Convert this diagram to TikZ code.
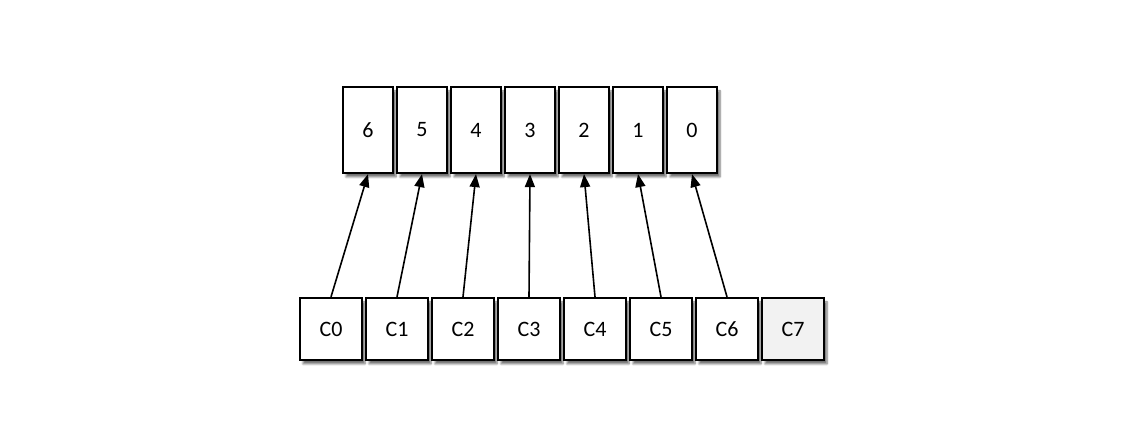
\documentclass[tikz,border=0pt]{standalone}
\usepackage{fontspec}
\setmainfont[Numbers=Lining]{Carlito}
\usepackage{tikz}
\usetikzlibrary{positioning,arrows.meta,shadows.blur}

\begin{document}
\begin{tikzpicture}[x=1pt,y=1pt]
	\tikzset{slot/.style={draw,line width=2.2pt,fill=white,minimum width=50pt,minimum height=86pt,inner sep=0pt,font=\fontsize{22}{22}\selectfont,blur shadow={shadow xshift=3pt,shadow yshift=-4pt,shadow blur steps=6,shadow opacity=55}},
		cell/.style={slot,minimum width=62pt,minimum height=62pt}}
	\useasboundingbox (0,0) rectangle (1138,442);
	\node[slot] (t6) at (368,312) {6};
	\node[slot] (t5) at (422,312) {5};
	\node[slot] (t4) at (476,312) {4};
	\node[slot] (t3) at (530,312) {3};
	\node[slot] (t2) at (584,312) {2};
	\node[slot] (t1) at (638,312) {1};
	\node[slot] (t0) at (692,312) {0};
	\node[cell] (c0) at (331,113) {C0};
	\node[cell] (c1) at (397,113) {C1};
	\node[cell] (c2) at (463,113) {C2};
	\node[cell] (c3) at (529,113) {C3};
	\node[cell] (c4) at (595,113) {C4};
	\node[cell] (c5) at (661,113) {C5};
	\node[cell] (c6) at (727,113) {C6};
	\node[cell,fill=black!5] (c7) at (793,113) {C7};
	\path[-{Triangle[length=13pt,width=10pt]},line width=1.6pt]
		(c0.north) edge (t6.south)
		(c1.north) edge (t5.south)
		(c2.north) edge (t4.south)
		(c3.north) edge (t3.south)
		(c4.north) edge (t2.south)
		(c5.north) edge (t1.south)
		(c6.north) edge (t0.south);
\end{tikzpicture}
\end{document}
